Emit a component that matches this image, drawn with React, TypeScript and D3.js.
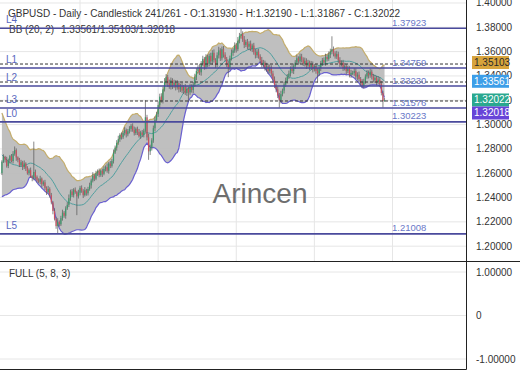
import React from 'react';
import * as d3 from 'd3';

const W = 520;
const H = 390;
const PLOT_R = 466;
const MAIN_B = 261;
const SUB_T = 261;
const SUB_B = 369;
const FONT = '"Liberation Sans", Arial, sans-serif';

const headerTitle = 'GBPUSD - Daily - Candlestick';
const headerOHLC = '241/261 - O:1.31930 - H:1.32190 - L:1.31867 - C:1.32022';
const bbName = 'BB (20, 2)';
const bbValuesText = '1.33561/1.35103/1.32018';
const subName = 'FULL (5, 8, 3)';
const watermark = 'Arincen';

// closes before the first visible candle (feed the 20-period bands)
const priorCloses = [
  1.3010, 1.2985, 1.2950, 1.2930, 1.2900, 1.2935, 1.2880, 1.2840, 1.2790, 1.2810,
  1.2760, 1.2690, 1.2630, 1.2580, 1.2540, 1.2490, 1.2470, 1.2530, 1.2600,
];

const closes = [
  1.2695, 1.2735, 1.2710, 1.2660, 1.2705, 1.2740, 1.2700, 1.2760, 1.2790, 1.2730,
  1.2710, 1.2665, 1.2690, 1.2650, 1.2680, 1.2640, 1.2600, 1.2625, 1.2575, 1.2560,
  1.2610, 1.2570, 1.2540, 1.2530, 1.2555, 1.2510, 1.2525, 1.2480, 1.2445, 1.2470,
  1.2420, 1.2360, 1.2290, 1.2225, 1.2165, 1.2200, 1.2180, 1.2230, 1.2275, 1.2250,
  1.2310, 1.2340, 1.2395, 1.2450, 1.2420, 1.2465, 1.2445, 1.2410, 1.2440, 1.2480,
  1.2455, 1.2420, 1.2460, 1.2435, 1.2470, 1.2500, 1.2540, 1.2580, 1.2555, 1.2600,
  1.2615, 1.2585, 1.2620, 1.2595, 1.2635, 1.2650, 1.2620, 1.2680, 1.2660, 1.2700,
  1.2770, 1.2810, 1.2850, 1.2880, 1.2915, 1.2895, 1.2930, 1.2955, 1.2920, 1.2945,
  1.2965, 1.2990, 1.2955, 1.2930, 1.2965, 1.2940, 1.2905, 1.2935, 1.2915, 1.2950,
  1.3060, 1.2895, 1.2780, 1.2810, 1.2870, 1.2970, 1.3040, 1.3085, 1.3160, 1.3230,
  1.3200, 1.3290, 1.3350, 1.3390, 1.3340, 1.3310, 1.3365, 1.3320, 1.3345, 1.3305,
  1.3340, 1.3290, 1.3315, 1.3280, 1.3310, 1.3260, 1.3295, 1.3265, 1.3310, 1.3285,
  1.3330, 1.3390, 1.3440, 1.3470, 1.3430, 1.3500, 1.3540, 1.3475, 1.3555, 1.3500,
  1.3565, 1.3520, 1.3590, 1.3530, 1.3490, 1.3570, 1.3610, 1.3545, 1.3620, 1.3575,
  1.3540, 1.3500, 1.3470, 1.3545, 1.3590, 1.3610, 1.3650, 1.3620, 1.3690, 1.3730,
  1.3745, 1.3700, 1.3655, 1.3680, 1.3640, 1.3665, 1.3620, 1.3650, 1.3595, 1.3570,
  1.3600, 1.3560, 1.3530, 1.3490, 1.3510, 1.3460, 1.3480, 1.3440, 1.3470, 1.3420,
  1.3370, 1.3320, 1.3290, 1.3240, 1.3200, 1.3250, 1.3280, 1.3330, 1.3360, 1.3395,
  1.3420, 1.3460, 1.3440, 1.3480, 1.3510, 1.3545, 1.3520, 1.3560, 1.3535, 1.3500,
  1.3525, 1.3485, 1.3510, 1.3470, 1.3495, 1.3455, 1.3480, 1.3440, 1.3420, 1.3465,
  1.3500, 1.3530, 1.3510, 1.3555, 1.3540, 1.3575, 1.3600, 1.3620, 1.3585, 1.3560,
  1.3580, 1.3530, 1.3495, 1.3510, 1.3465, 1.3480, 1.3440, 1.3460, 1.3410, 1.3425,
  1.3425, 1.3440, 1.3395, 1.3410, 1.3375, 1.3345, 1.3320, 1.3355, 1.3395, 1.3425,
  1.3405, 1.3435, 1.3395, 1.3365, 1.3385, 1.3350, 1.3370, 1.3335, 1.3260, 1.3193,
  1.32022,
];

// wick lengths above / below the body, in pips
const upWicks = [
  12, 20, 8, 25, 15, 10, 18, 22, 30, 14,
  9, 16, 20, 12, 25, 10, 18, 14, 22, 8,
  250, 20, 12, 18, 24, 10, 15, 20, 12, 26,
  14, 18, 10, 22, 16, 30, 12, 20, 25, 14,
  18, 22, 30, 15, 20, 12, 18, 10, 24, 16,
  20, 14, 26, 12, 18, 22, 15, 28, 12, 20,
  16, 24, 10, 18, 22, 14, 30, 12, 20, 16,
  25, 18, 22, 28, 14, 20, 16, 24, 12, 18,
  22, 15, 20, 28, 12, 18, 24, 14, 20, 16,
  140, 20, 30, 25, 18, 22, 28, 20, 30, 24,
  28, 20, 32, 26, 18, 30, 22, 16, 24, 20,
  26, 18, 22, 30, 14, 24, 20, 18, 26, 22,
  20, 28, 24, 18, 30, 22, 26, 16, 24, 20,
  18, 26, 22, 28, 16, 24, 30, 18, 22, 26,
  20, 16, 24, 22, 28, 18, 26, 20, 30, 24,
  45, 22, 28, 18, 24, 20, 26, 16, 22, 28,
  20, 24, 18, 26, 22, 16, 28, 20, 24, 18,
  22, 26, 18, 24, 20, 28, 16, 22, 26, 20,
  24, 18, 28, 22, 20, 26, 16, 24, 22, 18,
  26, 20, 22, 16, 28, 24, 18, 22, 26, 20,
  24, 18, 22, 28, 20, 26, 24, 106, 22, 18,
  26, 20, 24, 18, 22, 28, 16, 24, 20, 26,
  18, 24, 22, 20, 26, 16, 28, 22, 18, 24,
  20, 26, 18, 22, 24, 16, 28, 20, 22, 18,
  17,
];
const dnWicks = [
  15, 10, 22, 14, 18, 25, 12, 20, 16, 28,
  20, 14, 10, 24, 16, 22, 12, 18, 14, 26,
  18, 22, 16, 12, 20, 26, 14, 18, 24, 12,
  20, 16, 28, 14, 22, 65, 18, 14, 20, 16,
  24, 12, 18, 22, 16, 20, 14, 155, 18, 22,
  16, 24, 12, 20, 18, 14, 26, 16, 20, 12,
  22, 18, 14, 26, 12, 20, 16, 24, 18, 14,
  20, 12, 24, 16, 22, 18, 14, 20, 26, 16,
  18, 24, 14, 20, 16, 26, 12, 22, 18, 20,
  16, 25, 70, 30, 24, 20, 26, 18, 22, 28,
  20, 26, 18, 24, 30, 16, 22, 28, 20, 24,
  18, 26, 22, 20, 28, 16, 24, 80, 20, 22,
  26, 18, 24, 20, 22, 28, 16, 24, 20, 26,
  22, 18, 28, 20, 24, 16, 26, 22, 18, 24,
  20, 26, 80, 22, 18, 24, 20, 28, 16, 22,
  24, 20, 26, 18, 22, 28, 16, 24, 20, 26,
  22, 18, 28, 20, 24, 16, 26, 22, 20, 24,
  28, 20, 24, 22, 60, 26, 18, 24, 20, 22,
  20, 26, 18, 24, 22, 16, 28, 20, 24, 18,
  22, 28, 16, 24, 20, 26, 18, 22, 75, 20,
  24, 18, 22, 26, 20, 16, 28, 22, 24, 18,
  20, 26, 22, 18, 24, 20, 28, 16, 22, 26,
  18, 24, 20, 28, 22, 26, 16, 24, 20, 18,
  26, 20, 24, 18, 22, 28, 16, 24, 20, 53,
  6,
];

const priceTicks = [1.18, 1.2, 1.22, 1.24, 1.26, 1.28, 1.3, 1.32, 1.34, 1.36, 1.38, 1.4];
const gridCandles = [49, 98, 147, 196, 245];

const levelNames = ['L4', 'L1', 'L2', 'L3', 'L0', 'L5'];
const levelValues = [1.37923, 1.3465, 1.3317, 1.3136, 1.30223, 1.21008];
const levelTexts = ['1.37923', '1.34759', '1.33230', '1.31576', '1.30223', '1.21008'];
const dashedLevels = [1.3498, 1.335, 1.3194];

const badgeValues = [1.35103, 1.33561, 1.32022, 1.32018];
const badgeTexts = ['1.35103', '1.33561', '1.32022', '1.32018'];
const badgeFills = ['#d8a43c', '#3d9ee8', '#2aa88f', '#6744d8'];
const badgeInk = ['#2a2a2a', '#ffffff', '#ffffff', '#ffffff'];

const subTicks = [1, 0, -1];
const subTickTexts = ['1.00000', '0', '-1.00000'];

export default function App() {
  const x = d3.scaleLinear().domain([-1.2, 291.1]).range([0, PLOT_R]);
  const y = d3.scaleLinear().domain([1.18781, 1.40245]).range([MAIN_B, 0]);
  const ys = d3.scaleLinear().domain([-1, 1]).range([359, 272]);

  const all = priorCloses.concat(closes);
  const bands = closes.map((_, i) => {
    const win = all.slice(i, i + 20);
    const m = d3.mean(win) as number;
    const sd = Math.sqrt(d3.mean(win.map((v) => (v - m) * (v - m))) as number);
    return { i, mid: m, up: m + 2 * sd, lo: m - 2 * sd };
  });

  const area = d3
    .area<any>()
    .x((d) => x(d.i))
    .y0((d) => y(d.lo))
    .y1((d) => y(d.up));
  const lineUp = d3.line<any>().x((d) => x(d.i)).y((d) => y(d.up));
  const lineLo = d3.line<any>().x((d) => x(d.i)).y((d) => y(d.lo));
  const lineMid = d3.line<any>().x((d) => x(d.i)).y((d) => y(d.mid));

  const candles = closes.map((c, i) => {
    const o = i === 0 ? priorCloses[priorCloses.length - 1] : closes[i - 1];
    const h = Math.max(o, c) + upWicks[i] / 10000;
    const l = Math.min(o, c) - dnWicks[i] / 10000;
    return { i, o, h, l, c };
  });

  // badge placement with collision avoidance
  const badgeY: number[] = [];
  badgeValues.forEach((v, k) => {
    let yy = y(v);
    for (let j = 0; j < k; j++) {
      if (Math.abs(yy - badgeY[j]) < 13) yy = badgeY[j] + 13;
    }
    badgeY.push(yy);
  });

  return (
    <svg
      width={W}
      height={H}
      style={{ position: 'absolute', left: 0, top: 0, background: '#fff' }}
      fontFamily={FONT}
    >
      <defs>
        <clipPath id="mainClip">
          <rect x={0} y={0} width={PLOT_R} height={MAIN_B} />
        </clipPath>
        <clipPath id="axisClip">
          <rect x={PLOT_R} y={0} width={W - PLOT_R} height={MAIN_B} />
        </clipPath>
      </defs>
      <rect x={0} y={0} width={W} height={H} fill="#fff" />

      {/* main grid */}
      <g clipPath="url(#mainClip)">
        {priceTicks.map((t) => (
          <line key={'h' + t} x1={0} x2={PLOT_R} y1={y(t)} y2={y(t)} stroke="#e6e6e6" strokeWidth={1} />
        ))}
        {gridCandles.map((g) => (
          <line key={'v' + g} x1={x(g)} x2={x(g)} y1={0} y2={MAIN_B} stroke="#e6e6e6" strokeWidth={1} />
        ))}
      </g>

      {/* header */}
      <text x={8} y={13} fontSize={10} fill="#333" dominantBaseline="central">{headerTitle}</text>
      <text x={145} y={13} fontSize={10} fill="#333" dominantBaseline="central">{headerOHLC}</text>
      <text x={9} y={29.5} fontSize={10} fill="#333" dominantBaseline="central">{bbName}</text>
      <text x={61} y={29.5} fontSize={10} fill="#333" dominantBaseline="central">{bbValuesText}</text>

      <text x={260} y={193} fontSize={28} fill="#6e6e6e" textAnchor="middle" dominantBaseline="central">
        {watermark}
      </text>

      <g clipPath="url(#mainClip)">
        {/* Bollinger bands */}
        <path d={area(bands) as string} fill="#bababa" fillOpacity={0.92} />
        <path d={lineUp(bands) as string} fill="none" stroke="#c4ad6c" strokeWidth={1.2} />
        <path d={lineLo(bands) as string} fill="none" stroke="#6a60d0" strokeWidth={1.2} />
        <path d={lineMid(bands) as string} fill="none" stroke="#4f9f9f" strokeWidth={1} />

        {/* candles */}
        {candles.map((d) => {
          const upC = d.c >= d.o;
          const col = upC ? '#3a9a6c' : '#c9505e';
          const top = y(Math.max(d.o, d.c));
          const bh = Math.max(0.8, Math.abs(y(d.o) - y(d.c)));
          return (
            <g key={d.i}>
              <line x1={x(d.i)} x2={x(d.i)} y1={y(d.h)} y2={y(d.l)} stroke="#555" strokeWidth={0.7} />
              <rect x={x(d.i) - 0.6} y={top} width={1.2} height={bh} fill={col} />
            </g>
          );
        })}

        {/* level lines */}
        {dashedLevels.map((v) => (
          <line key={'d' + v} x1={0} x2={PLOT_R} y1={y(v)} y2={y(v)} stroke="#333" strokeWidth={1} strokeDasharray="3,2" />
        ))}
        {levelValues.map((v, k) => (
          <line key={'s' + k} x1={0} x2={PLOT_R} y1={y(v)} y2={y(v)} stroke="#4a4a9c" strokeWidth={1.6} />
        ))}
        {levelValues.map((v, k) => (
          <text key={'n' + k} x={6} y={y(v) - 5} fontSize={10} fill="#5a68c0">{levelNames[k]}</text>
        ))}
        {levelValues.map((v, k) => (
          <text key={'t' + k} x={392} y={y(v) - 2.5} fontSize={9.5} fill="#6a78c8">{levelTexts[k]}</text>
        ))}
      </g>

      {/* right price axis */}
      <g clipPath="url(#axisClip)">
        {priceTicks.map((t) => (
          <text key={'a' + t} x={476} y={y(t)} fontSize={10} fill="#333" dominantBaseline="central">
            {d3.format('.5f')(t)}
          </text>
        ))}
        {badgeValues.map((v, k) => (
          <g key={'b' + k}>
            <rect x={472} y={badgeY[k] - 6.5} width={37} height={13} fill={badgeFills[k]} />
            <text x={474} y={badgeY[k]} fontSize={10} fill={badgeInk[k]} dominantBaseline="central">
              {badgeTexts[k]}
            </text>
          </g>
        ))}
      </g>

      {/* sub panel */}
      {subTicks.map((t) => (
        <line key={'sg' + t} x1={0} x2={PLOT_R} y1={ys(t)} y2={ys(t)} stroke="#e6e6e6" strokeWidth={1} />
      ))}
      {subTicks.map((t, k) => (
        <text key={'st' + t} x={476} y={ys(t)} fontSize={10} fill="#333" dominantBaseline="central">
          {subTickTexts[k]}
        </text>
      ))}
      <text x={9} y={273.5} fontSize={10} fill="#333" dominantBaseline="central">{subName}</text>

      {/* frames */}
      <line x1={0} x2={W} y1={SUB_T + 0.5} y2={SUB_T + 0.5} stroke="#222" strokeWidth={1} />
      <line x1={0} x2={PLOT_R + 0.5} y1={SUB_B + 0.5} y2={SUB_B + 0.5} stroke="#222" strokeWidth={1} />
      <line x1={PLOT_R + 0.5} x2={PLOT_R + 0.5} y1={0} y2={SUB_B + 0.5} stroke="#222" strokeWidth={1} />
    </svg>
  );
}
